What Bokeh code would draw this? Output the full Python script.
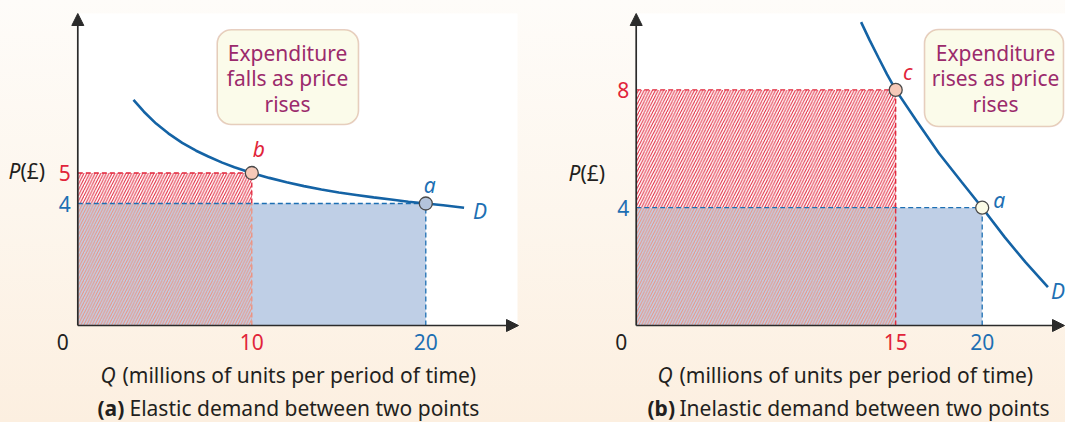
from bokeh.plotting import figure
from bokeh.layouts import row
from bokeh.models import Range1d, Label, Arrow, NormalHead, BoxAnnotation
from bokeh.embed import file_html
from bokeh.resources import INLINE

# ---------------- data ----------------
left_q = [10, 20]          # b (new), a (old)
left_p = [5, 4]
right_q = [15, 20]         # c (new), a (old)
right_p = [8, 4]
left_curve_q = [3.2, 3.8, 4.5, 5.2, 6, 6.8, 7.5, 8.3, 9, 10, 11, 12, 13, 14, 15, 16, 17, 18, 19, 20, 21, 22.2]
left_curve_p = [7.4, 7.01, 6.62, 6.3, 5.99, 5.73, 5.54, 5.34, 5.19, 5.0, 4.84, 4.7, 4.57, 4.46,
                4.36, 4.28, 4.2, 4.13, 4.06, 4.0, 3.94, 3.86]
right_curve_q = [13.0, 13.5, 14.0, 14.5, 15, 16.2, 17.5, 18.8, 20, 21.3, 22.5, 23.8]
right_curve_p = [10.3, 9.68, 9.1, 8.53, 8, 6.95, 5.85, 4.88, 4.0, 3.0, 2.15, 1.3]
left_point_labels = ["b", "a"]
right_point_labels = ["c", "a"]
left_box_text = ["Expenditure", "falls as price", "rises"]
right_box_text = ["Expenditure", "rises as price", "rises"]
left_caption = ["(a)", "Elastic demand between two points"]
right_caption = ["(b)", "Inelastic demand between two points"]
x_title = ["Q", "(millions of units per period of time)"]
y_title = ["P", "(£)"]

# ---------------- styles ----------------
FONT = "Noto Sans"
FS = "21px"
DARK = "#231f20"
AX = "#2b2b2b"
RED = "#e1243a"
SALMON = "#f0907c"
BLUE = "#1d6fb3"
CURVE = "#1463a5"
BLUE_FILL = "#bfcfe6"
PINK = "#f6c9b8"
BOX_FILL = "#fbfbea"
BOX_LINE = "#b3653e"
BOX_TEXT = "#9b2a6c"
BG = {"background-image": "linear-gradient(to bottom, #fefcf9 0%, #fdf6ed 50%, #fcefe0 100%)"}
H = 422
OY = 325  # pixel row of the Q axis


def panel(width, ox, sx, sy, white_right, q, pr, cq, cp, ptl, box, box_text, caption,
          red_vertical_full, a_fill, pos):
    # pixel -> data helpers (for annotation placement only)
    X = lambda px: (px - ox) / sx
    Y = lambda py: (OY - py) / sy
    p = figure(width=width, height=H, x_range=Range1d(X(0), X(width)), y_range=Range1d(Y(H), Y(0)),
               x_axis_type=None, y_axis_type=None, toolbar_location=None, output_backend="svg",
               min_border_left=0, min_border_right=0, min_border_top=0, min_border_bottom=0,
               background_fill_color=None, border_fill_color=None, outline_line_color=None,
               styles=BG)

    def lab(x, y, text, color=DARK, style="normal", align="left", baseline="middle"):
        p.add_layout(Label(x=x, y=y, text=text, text_color=color, text_font=FONT,
                           text_font_size=FS, text_font_style=style,
                           text_align=align, text_baseline=baseline))

    x_top, y_top = X(white_right), Y(13)
    # white plotting area
    p.quad(left=0, right=x_top, bottom=0, top=y_top, fill_color="white", line_color=None)
    q1, q0 = q
    p1, p0 = pr
    # blue expenditure area
    p.quad(left=0, right=q0, bottom=0, top=p0, fill_color=BLUE_FILL, line_color=None)
    # hatched expenditure at the new point
    p.quad(left=0, right=q1, bottom=p0, top=p1, fill_alpha=0, line_color=None,
           hatch_pattern="/", hatch_color=RED, hatch_scale=5.6, hatch_weight=1.0)
    p.quad(left=0, right=q1, bottom=0, top=p0, fill_alpha=0, line_color=None,
           hatch_pattern="/", hatch_color=SALMON, hatch_scale=5.6, hatch_weight=1.0)
    dash = "5 3"
    p.line([0, q1], [p1, p1], line_color=RED, line_dash=dash, line_width=1.3)
    p.line([q1, q1], [p0, p1], line_color=RED, line_dash=dash, line_width=1.3)
    p.line([q1, q1], [0, p0], line_color=RED if red_vertical_full else SALMON,
           line_dash=dash, line_width=1.3)
    p.line([0, q0], [p0, p0], line_color=BLUE, line_dash=dash, line_width=1.3)
    p.line([q0, q0], [0, p0], line_color=BLUE, line_dash=dash, line_width=1.3)
    # demand curve and points
    p.line(cq, cp, line_color=CURVE, line_width=2.6)
    p.scatter([q1], [p1], size=13, fill_color=PINK, line_color="#4a4a4a", line_width=1.3)
    p.scatter([q0], [p0], size=13, fill_color=a_fill, line_color="#4a4a4a", line_width=1.3)
    # axes
    p.add_layout(Arrow(end=NormalHead(size=12, fill_color=AX, line_color=AX),
                       x_start=0, y_start=0, x_end=0, y_end=y_top,
                       line_color=AX, line_width=1.7))
    p.add_layout(Arrow(end=NormalHead(size=12, fill_color=AX, line_color=AX),
                       x_start=0, y_start=0, x_end=X(pos["xarrow"]), y_end=0,
                       line_color=AX, line_width=1.7))
    # callout
    p.add_layout(BoxAnnotation(left=X(box[0]), right=X(box[1]), top=Y(box[2]), bottom=Y(box[3]),
                               fill_color=BOX_FILL, fill_alpha=1, line_color=BOX_LINE,
                               line_width=1.6, border_radius=14))
    for i, t in enumerate(box_text):
        lab(X(pos["boxcx"]), Y(box[2] + 23 + 25.5 * i), t, color=BOX_TEXT, align="center")
    # point labels
    nx, ny = pos["new"]
    lab(q1 + nx / sx, p1 + ny / sy, ptl[0], color=RED, style="italic", align="center")
    ax_, ay_ = pos["old"]
    lab(q0 + ax_ / sx, p0 + ay_ / sy, ptl[1], color=BLUE, style="italic", align="center")
    dx, dy = pos["D"]
    lab(cq[-1] + dx / sx, cp[-1] + dy / sy, "D", color=BLUE, style="italic", align="left")
    # tick labels
    lab(-7 / sx, p1, str(p1), color=RED, align="right")
    lab(-7 / sx, p0, str(p0), color=BLUE, align="right")
    lab(-15 / sx, -16 / sy, "0", align="center")
    lab(q1, -16 / sy, str(q1), color=RED, align="center")
    lab(q0, -16 / sy, str(q0), color=BLUE, align="center")
    # axis titles
    pxp, pyp = pos["P"]
    lab(X(pxp), Y(pyp), y_title[0], style="italic", align="right")
    lab(X(pxp), Y(pyp), y_title[1], align="left")
    qx = pos["Q"]
    lab(X(qx), Y(374), x_title[0], style="italic", align="left")
    lab(X(qx + 22), Y(374), x_title[1], align="left")
    cx = pos["cap"]
    lab(X(cx), Y(407), caption[0], style="bold", align="left")
    lab(X(cx + 32), Y(407), caption[1], align="left")
    return p


left = panel(555, 77.3, 17.4, 30.5, 517, left_q, left_p, left_curve_q, left_curve_p,
             left_point_labels, (216.7, 358, 29.3, 124), left_box_text, left_caption, False,
             "#b4c4dc",
             {"new": (7, 24), "old": (4, 19), "D": (9, -3), "P": (20, 170), "Q": 100,
              "cap": 97, "boxcx": 287, "xarrow": 518})
right = panel(510, 80.7, 17.3, 29.45, 510, right_q, right_p, right_curve_q, right_curve_p,
              right_point_labels, (369, 508, 29, 126), right_box_text, right_caption, True,
              "#fbfbe6",
              {"new": (12, 18), "old": (17, 8), "D": (3, -4), "P": (25, 172), "Q": 102,
               "cap": 92, "boxcx": 440, "xarrow": 509})

layout = row(left, right)
open("out.html", "w").write(file_html(layout, INLINE))
